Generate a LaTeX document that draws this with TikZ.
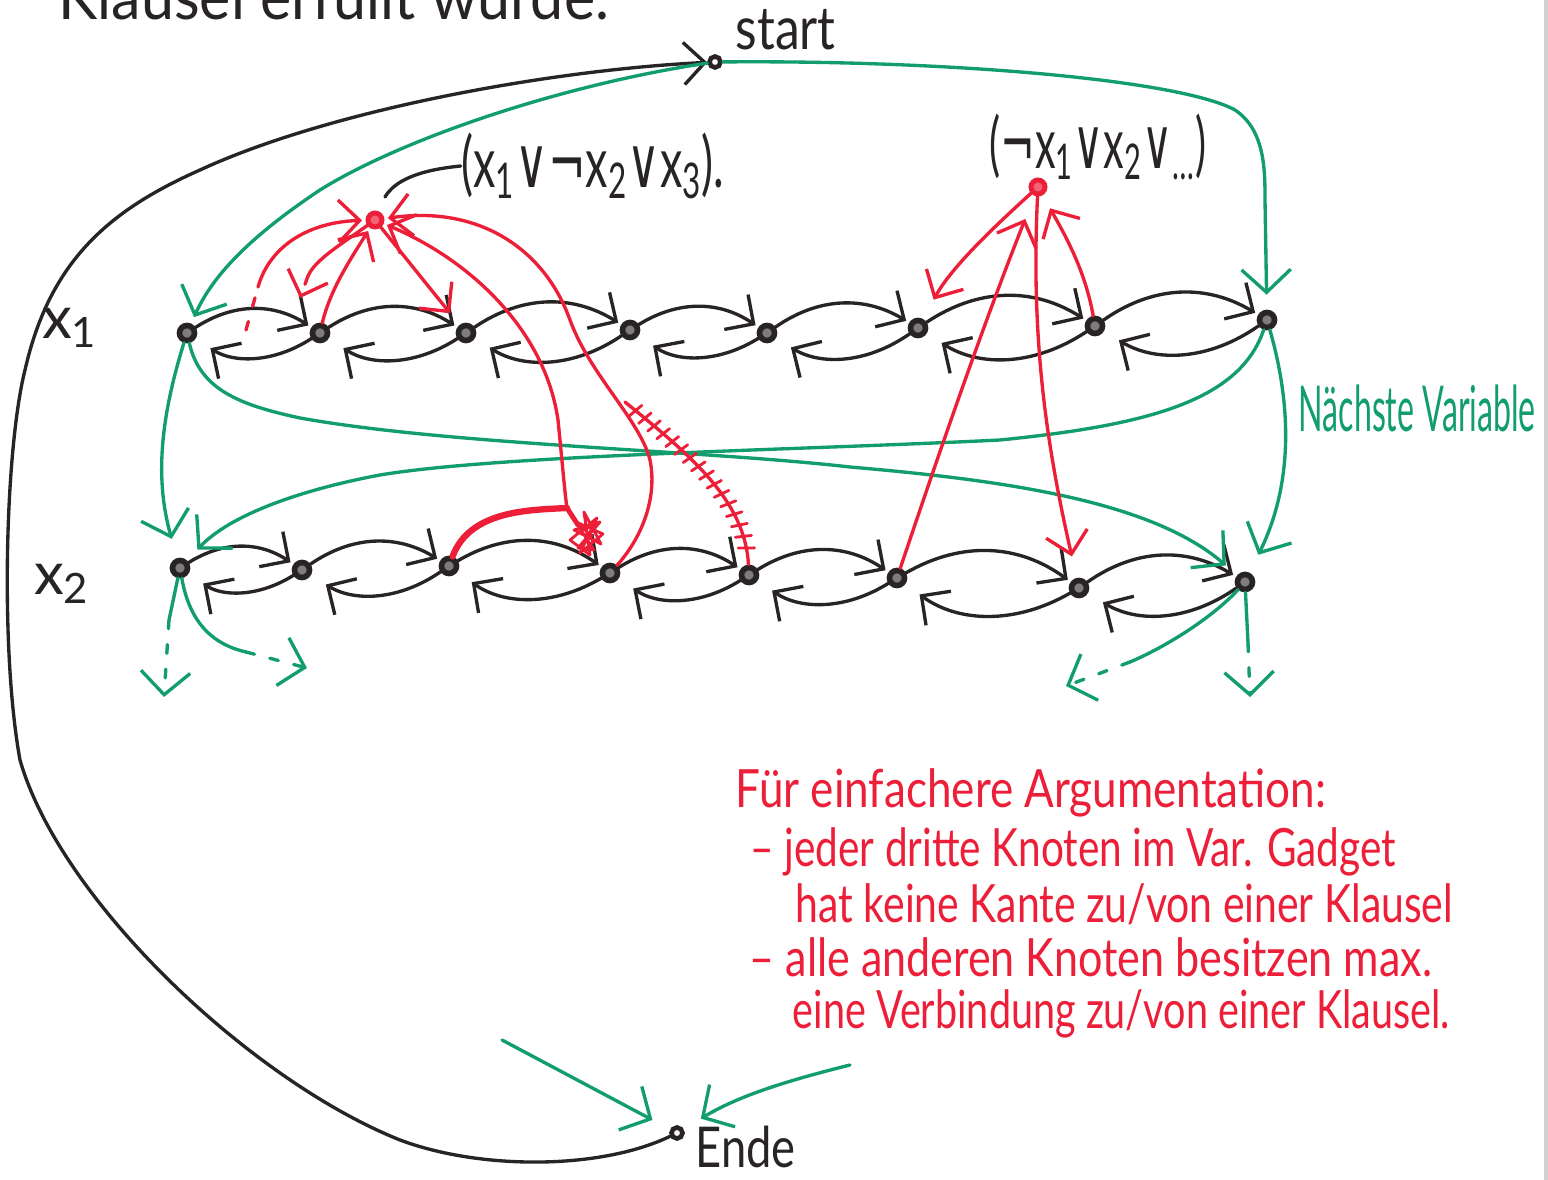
\documentclass[tikz,border=0pt]{standalone}
\usepackage{fontspec}
\setmainfont{Lato}
\newfontfamily\dvsym{DejaVu Sans}
\usetikzlibrary{arrows.meta,decorations.markings}
\definecolor{ink}{RGB}{40,36,36}
\definecolor{penred}{RGB}{236,30,56}
\definecolor{pengreen}{RGB}{18,158,108}
% squeeze a text to a given width, keeping its height
\newcommand\handtext[2]{\resizebox{#1}{\height}{#2}}
\tikzset{
  hand/.style={line width=0.95pt, line cap=round, line join=round},
  inkline/.style={hand, draw=ink},
  inkarr/.style={inkline, -{Straight Barb[length=6pt,width=12pt]}},
  grnline/.style={hand, draw=pengreen},
  grnarr/.style={grnline, -{Straight Barb[length=6.5pt,width=14pt]}},
  redline/.style={hand, draw=penred},
  redarr/.style={redline, -{Straight Barb[length=6pt,width=12pt]}},
  dotty/.style={dash pattern=on 2.5pt off 4.5pt},
  hatched/.style={postaction={decorate, decoration={markings,
      mark=between positions 0.08 and 0.95 step 0.12cm with
      {\draw[redline, line width=0.8pt] (-0.015cm,-0.08cm) -- (0.015cm,0.08cm);}}}},
  vnode/.style={circle, draw=ink, line width=1.6pt, fill=ink!60, inner sep=0pt, minimum size=0.15cm},
  ring/.style={circle, draw=ink, line width=1.3pt, fill=white, inner sep=0pt, minimum size=0.11cm},
  cnode/.style={circle, draw=penred, line width=1.4pt, fill=penred!70, inner sep=0pt, minimum size=0.14cm},
  lbl/.style={inner sep=0pt, text=ink},
}
\begin{document}
\begin{tikzpicture}[x=0.01cm,y=0.01cm]
\fill[white] (0,0) rectangle (1548,-1180);
\useasboundingbox (0,0) rectangle (1548,-1180);
\fill[gray!35] (1544,0) rectangle (1548,-1180);

% heading line, cut by the page edge
\node[lbl, anchor=base west, font=\fontsize{18}{20}\selectfont] (head) at (58,-20) {\handtext{5.5cm}{Klausel erfüllt wurde.}};

% start and end nodes
\node[ring] (start) at (715,-62) {};
\node[ring] (ende) at (677,-1133) {};
\node[lbl, anchor=base west, font=\fontsize{17}{19}\selectfont] (lstart) at (735,-50) {\handtext{1.0cm}{start}};
\node[lbl, anchor=base west, font=\fontsize{16}{18}\selectfont] (lende) at (695,-1168) {\handtext{1.0cm}{Ende}};

% variable gadgets
\foreach \n/\x/\y in {a1/187/333, a2/320/333, a3/466/333, a4/630/330, a5/767/333, a6/918/328, a7/1095/326, a8/1267/320,
                      b1/180/568, b2/302/570, b3/449/566, b4/610/573, b5/749/575, b6/897/578, b7/1079/588, b8/1245/582}
  \node[vnode] (\n) at (\x,-\y) {};

\node[lbl, font=\fontsize{17}{19}\selectfont] (lx1) at (70,-328) {x\textsubscript{1}};
\node[lbl, font=\fontsize{17}{19}\selectfont] (lx2) at (62,-584) {x\textsubscript{2}};

\foreach \p/\q in {a1/a2, a2/a3, a3/a4, a4/a5, a5/a6, a6/a7, a7/a8,
                   b1/b2, b2/b3, b3/b4, b4/b5, b5/b6, b6/b7, b7/b8} {
  \draw[inkarr, shorten >=1pt] (\p) to[bend left=33] (\q);
  \draw[inkarr, shorten >=5pt] (\q) to[bend left=33] (\p);
}

% clause nodes
\node[cnode] (c1) at (375,-220) {};
\node[cnode] (c2) at (1038,-187) {};
\node[lbl, font=\fontsize{20}{22}\selectfont] (lc1) at (593,-166)
  {\handtext{2.63cm}{(x\textsubscript{1}{\dvsym ∨}{\dvsym ¬}x\textsubscript{2}{\dvsym ∨}x\textsubscript{3}).}};
\node[lbl, font=\fontsize{20}{22}\selectfont] (lc2) at (1098,-147)
  {\handtext{2.17cm}{({\dvsym ¬}x\textsubscript{1}{\dvsym ∨}x\textsubscript{2}{\dvsym ∨}\textsubscript{…})}};
\coordinate (lead) at (385,-197);
\draw[inkline] (lead) .. controls (395,-180) and (420,-170) .. (lc1.west);

% path from the end back to the start
\draw[inkarr] (ende) .. controls (600,-1170) and (480,-1170) .. (400,-1140)
  .. controls (250,-1080) and (60,-900) .. (20,-760)
  .. controls (0,-650) and (5,-450) .. (25,-370)
  .. controls (50,-260) and (110,-210) .. (200,-170)
  .. controls (330,-110) and (550,-70) .. (start);

% green: entering and leaving the gadgets
\draw[grnarr, shorten >=2pt] (start) .. controls (560,-85) and (400,-140) .. (320,-190)
  .. controls (260,-230) and (215,-270) .. (a1);
\draw[grnarr, shorten >=0.15cm] (start) .. controls (950,-60) and (1180,-80) .. (1235,-110)
  .. controls (1265,-130) and (1265,-170) .. (1265,-200) -- (a8);
\draw[grnarr, shorten >=0.2cm] (a1) .. controls (160,-420) and (155,-480) .. (b1);
\draw[grnarr, shorten >=0.15cm] (a1) .. controls (200,-390) and (240,-405) .. (300,-418)
  .. controls (450,-445) and (700,-450) .. (850,-467)
  .. controls (1000,-480) and (1150,-500) .. (b8);
\draw[grnarr, shorten >=0.15cm] (a8) .. controls (1240,-400) and (1150,-425) .. (1000,-440)
  .. controls (800,-450) and (500,-455) .. (380,-475)
  .. controls (300,-490) and (230,-515) .. (b1);
\draw[grnarr, shorten >=0.2cm] (a8) .. controls (1290,-400) and (1295,-480) .. (b8);
\node[lbl, text=pengreen, anchor=base west, font=\fontsize{18}{20}\selectfont] (lnext) at (1298,-432) {\handtext{2.37cm}{Nächste Variable}};

% green: further gadgets, shortened
\coordinate (d1) at (169,-620);
\coordinate (d1e) at (164,-697);
\draw[grnline] (b1) -- (d1);
\draw[grnarr, dotty] (d1) -- (d1e);
\coordinate (d2) at (246,-652);
\coordinate (d2e) at (307,-668);
\draw[grnline] (b1) .. controls (190,-625) and (215,-645) .. (d2);
\draw[grnarr, dotty] (d2) -- (d2e);
\coordinate (d3) at (1130,-662);
\coordinate (d3e) at (1066,-686);
\draw[grnline] (b8) .. controls (1215,-615) and (1170,-645) .. (d3);
\draw[grnarr, dotty] (d3) -- (d3e);
\coordinate (d4) at (1248,-643);
\coordinate (d4e) at (1250,-697);
\draw[grnline] (b8) -- (d4);
\draw[grnarr, dotty] (d4) -- (d4e);

% green: into the end node
\coordinate (e1) at (502,-1040);
\coordinate (e2) at (850,-1065);
\draw[grnarr, shorten >=0.2cm] (e1) -- (ende);
\draw[grnarr, shorten >=0.2cm] (e2) .. controls (790,-1080) and (740,-1095) .. (ende);

% red: first clause
\coordinate (r1a) at (246,-330);
\coordinate (r1b) at (258,-287);
\draw[redline, dotty] (r1a) -- (r1b);
\draw[redarr, shorten >=1pt] (r1b) .. controls (270,-245) and (310,-222) .. (c1);
\coordinate (r2a) at (308,-276);
\coordinate (r2b) at (300,-298);
\draw[redline] (c1) .. controls (340,-245) and (315,-260) .. (r2a);
\draw[redarr, dotty] (r2a) -- (r2b);
\draw[redarr, shorten >=1pt] (a2) .. controls (330,-290) and (350,-260) .. (c1);
\draw[redarr, shorten >=0.15cm] (c1) -- (a3);

\coordinate (k1) at (567,-508);
\draw[redline, line width=1.8pt] (b3) .. controls (470,-510) and (530,-510) .. (k1);
\draw[redarr, shorten >=1pt] (k1) .. controls (565,-495) and (563,-470) .. (558,-420)
  .. controls (545,-330) and (470,-260) .. (c1);
\coordinate (k2) at (578,-525);
\draw[redline, line width=1.4pt] (k1) -- (k2);
% crossed-out arrow head
\draw[redline, line width=0.8pt] (572,-516) -- (594,-550) -- (578,-548) -- (600,-522) -- (574,-530) -- (601,-544)
  -- (584,-512) -- (590,-555) -- (570,-540) -- (597,-518) -- (580,-553) -- (603,-534) -- (576,-522) -- (592,-536);

\draw[redarr, shorten >=1pt] (b4) .. controls (640,-540) and (658,-500) .. (650,-460)
  .. controls (640,-420) and (590,-375) .. (570,-320)
  .. controls (545,-250) and (480,-205) .. (c1);
\coordinate (x1) at (625,-402);
\draw[redline, hatched] (b5) .. controls (745,-500) and (690,-455) .. (x1);

% red: second clause
\draw[redarr, shorten >=0.22cm] (c2) .. controls (985,-235) and (950,-270) .. (a6);
\draw[redarr, shorten >=0.15cm] (a7) .. controls (1085,-270) and (1065,-235) .. (c2);
\draw[redarr, shorten >=0.25cm] (b6) .. controls (940,-450) and (985,-320) .. (c2);
\draw[redarr, shorten >=0.22cm] (c2) .. controls (1030,-350) and (1050,-460) .. (b7);

% red note
\begin{scope}[every node/.style={lbl, text=penred, anchor=base west, font=\fontsize{15}{17}\selectfont}]
\node (t1) at (735,-808) {\handtext{5.9cm}{Für einfachere Argumentation:}};
\node (t2) at (750,-867) {\handtext{6.45cm}{– jeder dritte Knoten im Var. Gadget}};
\node (t3) at (795,-923) {\handtext{6.57cm}{hat keine Kante zu/von einer Klausel}};
\node (t4) at (749,-977) {\handtext{6.82cm}{– alle anderen Knoten besitzen max.}};
\node (t5) at (792,-1029) {\handtext{6.57cm}{eine Verbindung zu/von einer Klausel.}};
\end{scope}
\end{tikzpicture}
\end{document}
